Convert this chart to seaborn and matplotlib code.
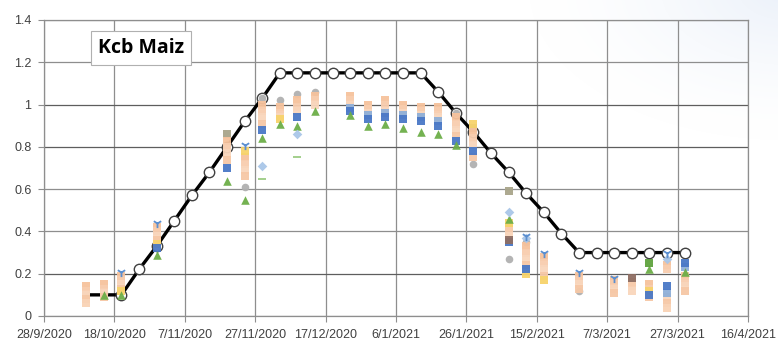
import numpy as np
import pandas as pd
import matplotlib
matplotlib.use("Agg")
import matplotlib.pyplot as plt
import seaborn as sns

nan = np.nan

# Reference basal crop coefficient curve (every 5 days)
kcb_dates = ["2020-10-10", "2020-10-15", "2020-10-20", "2020-10-25", "2020-10-30",
             "2020-11-04", "2020-11-09", "2020-11-14", "2020-11-19", "2020-11-24",
             "2020-11-29", "2020-12-04", "2020-12-09", "2020-12-14", "2020-12-19",
             "2020-12-24", "2020-12-29", "2021-01-03", "2021-01-08", "2021-01-13",
             "2021-01-18", "2021-01-23", "2021-01-28", "2021-02-02", "2021-02-07",
             "2021-02-12", "2021-02-17", "2021-02-22", "2021-02-27", "2021-03-04",
             "2021-03-09", "2021-03-14", "2021-03-19", "2021-03-24", "2021-03-29"]
kcb_values = [0.10, 0.10, 0.10, 0.22, 0.33, 0.45, 0.57, 0.68, 0.80, 0.92,
              1.03, 1.15, 1.15, 1.15, 1.15, 1.15, 1.15, 1.15, 1.15, 1.15,
              1.06, 0.96, 0.87, 0.77, 0.68, 0.58, 0.49, 0.39, 0.30, 0.30,
              0.30, 0.30, 0.30, 0.30, 0.30]

# Field observations
obs_dates = ["2020-10-10", "2020-10-15", "2020-10-20", "2020-10-30", "2020-11-19",
             "2020-11-24", "2020-11-29", "2020-12-04", "2020-12-09", "2020-12-14",
             "2020-12-24", "2020-12-29", "2021-01-03", "2021-01-08", "2021-01-13",
             "2021-01-18", "2021-01-23", "2021-01-28", "2021-02-07", "2021-02-12",
             "2021-02-17", "2021-02-27", "2021-03-09", "2021-03-14", "2021-03-19",
             "2021-03-24", "2021-03-29"]

obs_a = [0.14, 0.15, 0.19, 0.42, 0.83, 0.75, 1.00, 0.99, 1.02, 1.04, 1.04, 1.00, 1.02, 1.00,
         0.99, 0.99, 0.94, 0.87, 0.42, 0.33, 0.28, 0.19, 0.17, 0.16, 0.15, 0.24, 0.19]
obs_b = [0.12, 0.13, 0.17, 0.40, 0.80, 0.72, 0.97, 0.96, 0.99, 1.02, 1.02, 0.98, 1.00, 0.98,
         0.97, 0.97, 0.91, 0.84, 0.40, 0.30, 0.25, 0.17, 0.15, 0.14, 0.13, 0.22, 0.16]
obs_c = [0.10, 0.11, 0.15, 0.38, 0.77, 0.69, 0.94, 0.94, 0.97, 1.00, 1.00, 0.96, 0.97, 0.96,
         0.95, 0.94, 0.88, 0.81, 0.38, 0.27, 0.22, 0.15, 0.13, 0.12, nan, 0.09, 0.14]
obs_d = [0.08, 0.09, 0.13, 0.36, 0.74, 0.66, 0.91, nan, nan, nan, nan, nan, nan, nan,
         nan, nan, 0.85, 0.75, nan, 0.24, 0.19, 0.13, 0.11, nan, 0.09, 0.06, 0.12]
obs_e = [0.06, nan, nan, nan, nan, nan, nan, nan, nan, nan, nan, nan, nan, nan,
         nan, nan, nan, nan, nan, nan, nan, nan, nan, nan, nan, 0.04, nan]
obs_yellow = [nan, nan, 0.12, 0.34, nan, 0.78, nan, 0.93, nan, nan, nan, nan, nan, nan,
              nan, nan, nan, 0.91, 0.44, 0.20, 0.17, nan, nan, nan, 0.12, nan, nan]
obs_steel = [nan, nan, nan, nan, nan, nan, nan, nan, nan, nan, 0.985, 0.95, 0.96, 0.95,
             0.94, 0.92, nan, nan, nan, nan, nan, nan, nan, nan, nan, 0.11, 0.23]
obs_blue = [nan, nan, nan, 0.32, 0.70, nan, 0.88, nan, 0.94, nan, 0.97, 0.93, 0.94, 0.93,
            0.92, 0.90, 0.83, 0.78, 0.35, 0.22, nan, nan, nan, nan, 0.10, 0.14, 0.25]
obs_green = [nan, 0.10, 0.10, 0.29, 0.64, 0.55, 0.84, 0.91, 0.90, 0.97, 0.95, 0.90, 0.91, 0.89,
             0.87, 0.86, 0.81, nan, 0.46, nan, nan, nan, nan, nan, 0.22, nan, 0.21]
obs_gray = [nan, 0.11, nan, nan, nan, 0.61, 1.03, 1.02, 1.05, 1.06, nan, nan, nan, nan,
            nan, nan, 0.96, 0.72, 0.27, 0.35, nan, 0.12, nan, nan, nan, nan, nan]
obs_khaki = [nan, nan, nan, nan, 0.86, nan, nan, nan, nan, nan, nan, nan, nan, nan,
             nan, nan, nan, 0.89, 0.59, nan, nan, nan, nan, nan, nan, nan, nan]
obs_greensq = [nan, nan, nan, nan, nan, nan, nan, nan, nan, nan, nan, nan, nan, nan,
               nan, nan, nan, nan, nan, nan, nan, nan, nan, nan, 0.25, nan, nan]
obs_diamond = [nan, nan, nan, nan, nan, nan, 0.71, nan, 0.86, nan, nan, nan, nan, nan,
               nan, nan, nan, nan, 0.49, 0.37, nan, nan, nan, nan, nan, 0.27, nan]
obs_dash = [nan, nan, nan, nan, nan, nan, 0.65, nan, 0.75, nan, nan, nan, nan, nan,
            nan, nan, nan, nan, nan, nan, nan, nan, nan, nan, nan, nan, nan]
obs_tri = [nan, nan, 0.21, 0.44, nan, 0.81, nan, nan, nan, nan, nan, nan, nan, nan,
           nan, nan, nan, nan, nan, 0.38, 0.30, 0.21, 0.18, nan, nan, 0.30, nan]
obs_brown = [nan, nan, nan, nan, nan, nan, nan, nan, nan, nan, nan, nan, nan, nan,
             nan, nan, nan, nan, 0.36, nan, nan, nan, nan, 0.18, nan, nan, nan]

x_tick_labels = ["28/9/2020", "18/10/2020", "7/11/2020", "27/11/2020", "17/12/2020",
                 "6/1/2021", "26/1/2021", "15/2/2021", "7/3/2021", "27/3/2021", "16/4/2021"]
y_ticks = [0, 0.2, 0.4, 0.6, 0.8, 1.0, 1.2, 1.4]
y_tick_labels = ["0", "0.2", "0.4", "0.6", "0.8", "1", "1.2", "1.4"]
title_text = "Kcb Maiz"

# (values, color, marker, size)
series = [
    (obs_gray, "#B0B0B0", "o", 30),
    (obs_khaki, "#A9A58A", "s", 28),
    (obs_a, "#F6C29C", "s", 34),
    (obs_b, "#F8CDAE", "s", 34),
    (obs_c, "#F9D6BC", "s", 34),
    (obs_d, "#F6C8A6", "s", 34),
    (obs_e, "#F9D3B6", "s", 34),
    (obs_yellow, "#F7D36B", "s", 26),
    (obs_steel, "#8FAFD8", "s", 28),
    (obs_blue, "#4A78C6", "s", 30),
    (obs_green, "#6DAE48", "^", 38),
    (obs_greensq, "#5FA23E", "s", 34),
    (obs_brown, "#8E6E63", "s", 28),
    (obs_diamond, "#A9C6E8", "D", 24),
    (obs_dash, "#9CCB84", "_", 40),
    (obs_tri, "#5B8FD0", "1", 44),
]

sns.set_theme(style="white")
plt.rcParams["font.family"] = ["Liberation Sans", "DejaVu Sans"]

fig = plt.figure(figsize=(7.78, 3.47), dpi=100)

# soft bluish glow in the upper-right corner of the page
bg = fig.add_axes([0, 0, 1, 1], zorder=-5)
yy, xx = np.mgrid[0:347, 0:778]
d = np.hypot((xx - 790) / 260.0, (yy + 10) / 150.0)
w = np.clip(1 - d, 0, 1) ** 1.5 * 0.55
glow = np.ones((347, 778, 3))
tint = np.array([0.86, 0.90, 0.96])
glow = glow * (1 - w[..., None]) + tint * w[..., None]
bg.imshow(glow, aspect="auto", extent=[0, 1, 0, 1], origin="upper")
bg.set_axis_off()

ax = fig.add_axes([44 / 778, 1 - 316 / 347, (748 - 44) / 778, (316 - 20) / 347])
ax.set_facecolor("none")

kcb = pd.DataFrame({"fecha": pd.to_datetime(kcb_dates), "kcb": kcb_values})
sns.lineplot(data=kcb, x="fecha", y="kcb", ax=ax, color="black", linewidth=2.4,
             marker="o", markersize=7.5, markerfacecolor="white",
             markeredgecolor="#404040", markeredgewidth=1.0,
             markevery=list(range(2, len(kcb_values))))
for ln in ax.get_lines():
    ln.set_zorder(3)

fechas = pd.to_datetime(obs_dates)
for vals, color, mk, size in series:
    df = pd.DataFrame({"fecha": fechas, "kc": vals}).dropna()
    if mk in ("_", "1"):
        sns.scatterplot(data=df, x="fecha", y="kc", ax=ax, color=color, marker=mk,
                        s=size, linewidth=1.3)
    else:
        sns.scatterplot(data=df, x="fecha", y="kc", ax=ax, color=color, marker=mk,
                        s=size, linewidth=0, alpha=0.95)
# observations sit above the reference curve
for coll in ax.collections:
    coll.set_zorder(4)

xt = pd.to_datetime(x_tick_labels, format="%d/%m/%Y")
ax.set_xlim(xt[0], xt[-1])
ax.set_ylim(0, 1.4)
ax.set_xticks(xt)
ax.set_xticklabels(x_tick_labels)
ax.set_yticks(y_ticks)
ax.set_yticklabels(y_tick_labels)
ax.set_xlabel("")
ax.set_ylabel("")

ax.grid(True, which="major", color="#8E8E8E", linewidth=0.9)
for gl, yv in zip(ax.get_ygridlines(), y_ticks):
    if yv in (0.2, 0.8, 1.0):
        gl.set_color("#5E5E5E")
for s in ax.spines.values():
    s.set_color("#8E8E8E")
    s.set_linewidth(0.9)
ax.tick_params(axis="both", which="major", length=4, width=0.8, color="#8E8E8E",
               labelsize=9, labelcolor="#404040", pad=5, direction="out",
               bottom=True, left=True)

fig.text(141 / 778, 1 - 48 / 347, title_text, ha="center", va="center",
         fontsize=14, fontweight="bold", color="black",
         family=["Open Sans", "DejaVu Sans"],
         bbox=dict(boxstyle="square,pad=0.35", facecolor="white",
                   edgecolor="#B0B0B0", linewidth=0.8))

fig.savefig("out.png", dpi=100)
